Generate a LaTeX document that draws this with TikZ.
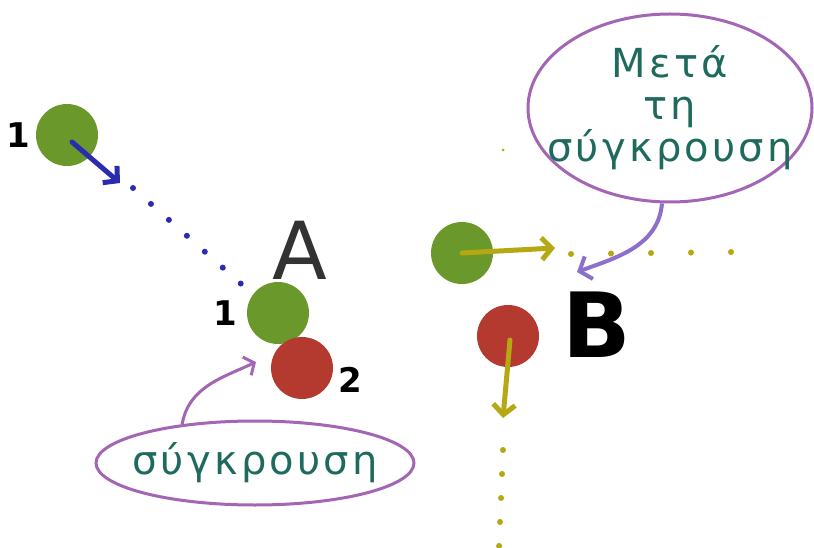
\documentclass[tikz,border=0pt]{standalone}
\usepackage{fontspec}
\setmainfont{DejaVu Sans}
\newfontfamily\handfont[LetterSpace=8]{DejaVu Sans}
\usetikzlibrary{arrows.meta,positioning,shapes.geometric}
\definecolor{ballgreen}{HTML}{6A982A}
\definecolor{ballred}{HTML}{B4392E}
\definecolor{noteteal}{HTML}{1E6B5E}
\definecolor{notepurple}{HTML}{A565B5}
\definecolor{pathblue}{HTML}{2B2BAE}
\definecolor{pathyellow}{HTML}{B5A812}
\definecolor{notelav}{HTML}{8C70CC}

\begin{document}
\begin{tikzpicture}[x=1pt,y=-1pt,
ball/.style={circle,minimum size=62pt,inner sep=0pt},
greenball/.style={ball,fill=ballgreen},
redball/.style={ball,fill=ballred},
num/.style={font=\fontsize{34}{34}\selectfont\bfseries},
bubble/.style={ellipse,draw=notepurple,line width=3pt,align=center,text=noteteal,
  font=\handfont\fontsize{40}{42}\selectfont},
move/.style={-{Straight Barb[length=10pt,width=22pt]},line width=5pt,line cap=round},
trail/.style={line width=6pt,line cap=round,dash pattern=on 0pt off 24pt}
]
\useasboundingbox[fill=white] (0,0) rectangle (814,548);

% before the collision
\node[greenball] (g0) at (67,135) {};
\node[num,left=2pt of g0] (n0) {1};
\coordinate (t0) at (133,188);
\draw[move,pathblue] (g0.center) ++(5,7) -- (120,183);
\draw[trail,pathblue] (t0) -- (248,290);

% A: the collision
\node[greenball] (ga) at (278,313) {};
\node[redball] (ra) at (302,368) {};
\node[num,left=6pt of ga] (na1) {1};
\node[num,right=2pt of ra,yshift=-12pt] (na2) {2};
\node[font=\fontsize{80}{80}\selectfont,text=black!80] (lA) at (300,250) {A};
\node[bubble,inner xsep=-26pt,inner ysep=2pt,minimum width=318pt,minimum height=84pt] (cb) at (255,463) {σύγκρουση};
\coordinate (hit) at (256,362);
\draw[notepurple,line width=3pt,-{Straight Barb[length=8pt,width=20pt]}] (cb.152) to[out=80,in=205] (hit);

% B: after the collision
\node[greenball] (gb) at (462,253) {};
\node[redball] (rb) at (508,336) {};
\node[font=\fontsize{90}{90}\selectfont\bfseries] (lB) at (597,325) {B};
\draw[move,pathyellow] (gb.center) -- (555,248);
\coordinate (tb) at (571,254);
\draw[trail,pathyellow,dash pattern=on 0pt off 40pt] (tb) -- (735,252);
\draw[move,pathyellow] (rb.center) ++(2,4) -- (503,418);
\coordinate (tr) at (503,450);
\draw[trail,pathyellow] (tr) -- (499,548);
\fill[pathyellow] (503,150) circle (1.5pt);

\node[bubble,inner xsep=-30pt,inner ysep=0pt,minimum width=284pt,minimum height=188pt] (ct) at (670,108) {Μετά\\τη\\σύγκρουση};
\coordinate (after) at (577,272);
\draw[notelav,line width=4pt,-{Straight Barb[length=10pt,width=24pt]}] (ct.south) ++(-8,0) to[out=-95,in=20] (after);
\end{tikzpicture}
\end{document}
